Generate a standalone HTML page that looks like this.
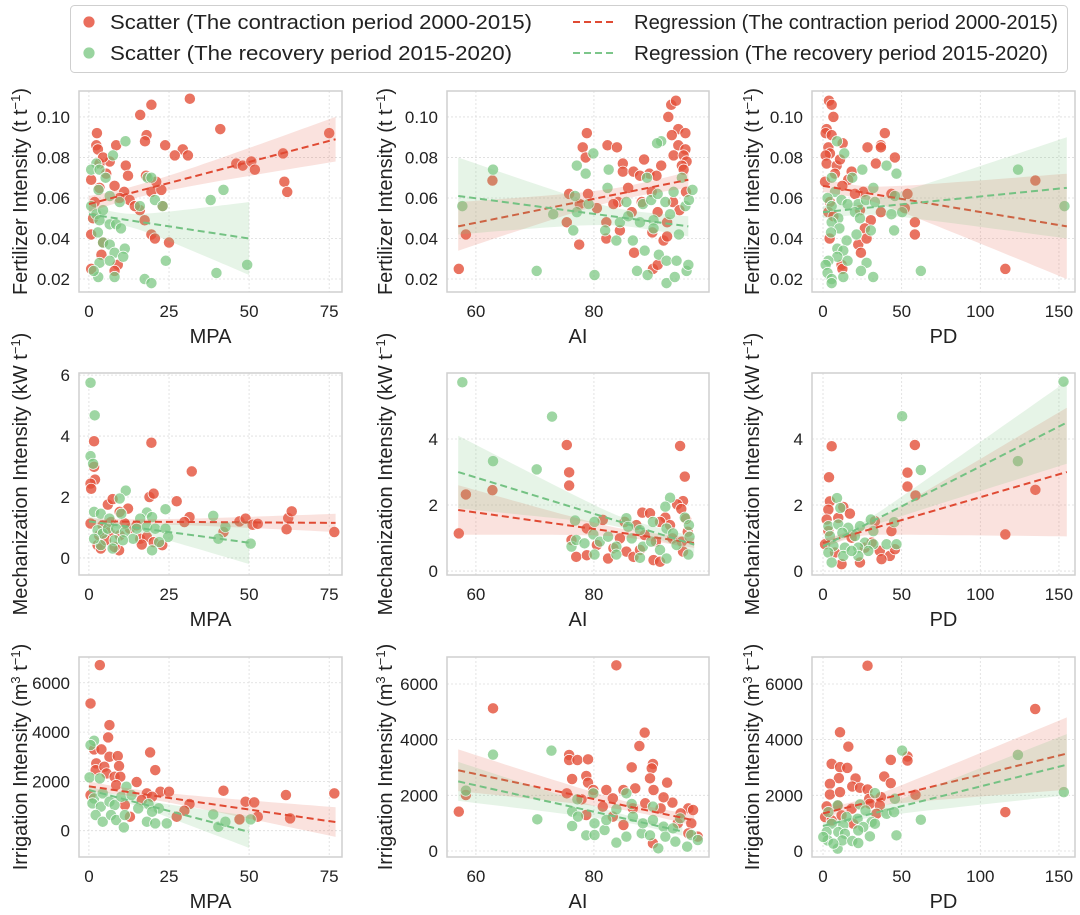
<!DOCTYPE html>
<html><head><meta charset="utf-8">
<style>
html,body{margin:0;padding:0;background:#fff;}
svg{display:block;font-family:"Liberation Sans",Arial,sans-serif;}
</style></head>
<body>
<svg id="fig" width="1080" height="915" viewBox="0 0 1080 915" xmlns="http://www.w3.org/2000/svg">
<g>
<rect x="70.5" y="5.5" width="997" height="67" rx="4" fill="#fff" stroke="#cfcfcf" stroke-width="1"/>
<circle cx="89" cy="22" r="6" fill="rgba(230,85,65,0.85)" stroke="#fff" stroke-width="0.8"/>
<text x="110" y="29" font-size="20.5" textLength="422" lengthAdjust="spacingAndGlyphs" fill="#222">Scatter (The contraction period 2000-2015)</text>
<circle cx="89" cy="53" r="6" fill="rgba(127,201,135,0.8)" stroke="#fff" stroke-width="0.8"/>
<text x="110" y="60" font-size="20.5" textLength="402" lengthAdjust="spacingAndGlyphs" fill="#222">Scatter (The recovery period 2015-2020)</text>
<line x1="573" y1="22" x2="613" y2="22" stroke="#e04a33" stroke-width="2" stroke-dasharray="7,4"/>
<text x="634" y="29" font-size="20.5" textLength="424" lengthAdjust="spacingAndGlyphs" fill="#222">Regression (The contraction period 2000-2015)</text>
<line x1="573" y1="53" x2="613" y2="53" stroke="#7cc68a" stroke-width="2" stroke-dasharray="7,4"/>
<text x="634" y="60" font-size="20.5" textLength="414" lengthAdjust="spacingAndGlyphs" fill="#222">Regression (The recovery period 2015-2020)</text>
</g>
</svg>
<script>
// ---------- DATA (x, y pairs per panel) ----------
const fertMpaRed=[[31.5,0.109],[19.5,0.106],[16,0.101],[41,0.094],[75,0.092],[2.5,0.092],[18,0.091],[17.5,0.088],[23.8,0.086],[8.5,0.086],[2.3,0.086],[2.8,0.084],[29.3,0.084],[26.8,0.081],[30.9,0.081],[60.6,0.082],[46,0.077],[48,0.076],[50.7,0.078],[51.8,0.074],[61,0.068],[61.9,0.063],[11.5,0.076],[12.2,0.071],[6.5,0.078],[0.7,0.069],[5.4,0.072],[3.3,0.065],[8,0.066],[11,0.063],[19.5,0.063],[22.6,0.064],[17.8,0.071],[21,0.068],[9.6,0.060],[12.7,0.059],[15.9,0.054],[17.4,0.049],[19.5,0.042],[20.6,0.040],[25,0.038],[1.8,0.058],[1.3,0.050],[0.7,0.042],[4.4,0.038],[3.9,0.032],[9,0.027],[8,0.024],[0.7,0.025],[23,0.056],[14.3,0.056],[3.3,0.077],[4.4,0.080]];
const fertMpaGreen=[[11.4,0.088],[7.5,0.081],[2.3,0.077],[0.7,0.074],[3.3,0.074],[5.2,0.070],[18.3,0.070],[19.5,0.070],[3,0.064],[6.5,0.061],[9.6,0.058],[20.6,0.059],[23,0.056],[15.9,0.056],[38,0.059],[42,0.064],[0.7,0.056],[2.3,0.052],[4.4,0.054],[3.3,0.049],[6.5,0.047],[8.5,0.047],[10,0.045],[2.8,0.043],[4.4,0.038],[6.5,0.037],[8,0.033],[11.2,0.035],[10.7,0.031],[3.3,0.028],[6.5,0.029],[24,0.029],[49.4,0.027],[39.8,0.023],[17.4,0.020],[19.5,0.018],[8,0.021],[2.9,0.021],[1.5,0.024]];
const fertAiRed=[[57.1,0.025],[58.3,0.042],[62.8,0.0686],[78.8,0.092],[78.1,0.085],[78.6,0.080],[82.3,0.086],[83.9,0.085],[84.9,0.077],[84.9,0.073],[86.7,0.073],[88.5,0.079],[89.4,0.072],[87.8,0.071],[90.6,0.071],[91.4,0.076],[92.6,0.1],[93.1,0.106],[93.9,0.108],[94.3,0.094],[93.2,0.091],[95.5,0.092],[94.3,0.086],[95.5,0.084],[93.5,0.081],[95.2,0.081],[95.7,0.078],[94.9,0.076],[95.2,0.074],[75.8,0.062],[79,0.062],[77.6,0.057],[75.4,0.048],[77.5,0.037],[82.1,0.048],[82.1,0.040],[84.4,0.044],[84.1,0.058],[85.8,0.065],[86.4,0.053],[86.8,0.033],[89.9,0.043],[90,0.025],[90.8,0.027],[91.8,0.039],[92.4,0.041],[92.4,0.048],[93.4,0.058],[94.5,0.054],[95.6,0.063],[89.8,0.063],[88.1,0.058],[90.8,0.053],[80.5,0.055],[83.3,0.057]];
const fertAiGreen=[[57.7,0.056],[62.9,0.074],[77.1,0.076],[78.6,0.072],[79.9,0.082],[82.5,0.074],[91.4,0.088],[90.7,0.087],[70.3,0.024],[80.1,0.022],[73.1,0.052],[76.5,0.044],[76.8,0.061],[77.1,0.053],[79.1,0.057],[82.3,0.065],[81.9,0.044],[83.8,0.039],[84.4,0.048],[85.5,0.058],[85.8,0.051],[86.6,0.039],[87.3,0.024],[87.8,0.048],[88.3,0.057],[88.6,0.034],[89,0.07],[89.1,0.022],[89.7,0.059],[90.1,0.049],[90.1,0.045],[90.8,0.062],[91,0.032],[92.1,0.058],[92.3,0.018],[92.3,0.029],[92.9,0.052],[93.7,0.021],[94,0.029],[94.4,0.042],[94.9,0.070],[95.5,0.056],[95.7,0.024],[96,0.027],[96.1,0.059],[96.7,0.064],[93.5,0.063]];
const fertPdRed=[[3.8,0.108],[5.5,0.106],[6.6,0.1],[2.3,0.094],[1.7,0.092],[5.5,0.091],[39.3,0.092],[28.3,0.085],[36.8,0.086],[36.8,0.085],[12.5,0.087],[3.4,0.085],[4.4,0.082],[45.7,0.080],[33.6,0.077],[1.7,0.081],[2.3,0.077],[8.7,0.076],[10.8,0.079],[18.2,0.073],[16,0.069],[135,0.0686],[1.3,0.068],[7.6,0.072],[12.3,0.066],[25.6,0.063],[43.5,0.062],[53.7,0.062],[52,0.055],[58.4,0.048],[58.4,0.042],[4.4,0.058],[3.4,0.053],[6.6,0.051],[23.5,0.054],[30.4,0.049],[36.8,0.053],[22.4,0.037],[24.1,0.033],[11.8,0.027],[12.3,0.025],[4.2,0.040],[26.6,0.045],[115.9,0.025],[27.7,0.040],[20.3,0.062]];
const fertPdGreen=[[8.9,0.088],[13.5,0.082],[40.4,0.076],[46.7,0.072],[124,0.074],[153.5,0.056],[25,0.074],[18.6,0.070],[5.5,0.070],[32,0.065],[45.7,0.061],[7.6,0.063],[2.9,0.060],[11.8,0.059],[22.4,0.057],[27.3,0.059],[33,0.058],[5.5,0.056],[15.6,0.057],[9.7,0.050],[43.5,0.052],[50.3,0.053],[20.3,0.053],[23.5,0.050],[5.5,0.048],[10.4,0.045],[30.4,0.044],[45.2,0.044],[21.3,0.042],[5.1,0.043],[15,0.039],[9.1,0.035],[12.9,0.034],[9.1,0.031],[15.6,0.029],[27.7,0.028],[3.4,0.029],[1.7,0.027],[24.1,0.024],[2.9,0.023],[5.5,0.020],[5.5,0.018],[12.9,0.021],[31.9,0.021],[62.2,0.024]];
const mechMpaRed=[[1.6,3.83],[19.5,3.78],[32.1,2.84],[1.6,2.99],[1.9,2.57],[0.5,2.44],[0.7,2.27],[18.9,2.0],[20.2,2.11],[27.4,1.86],[5.9,1.75],[7.4,1.93],[12.2,1.62],[9.6,1.51],[31.4,1.34],[29.8,1.18],[47,1.2],[48.9,1.29],[51.1,1.09],[52.7,1.12],[62.2,1.31],[63.3,1.53],[61.7,0.94],[76.6,0.85],[42,0.85],[0.5,1.13],[4.3,1.07],[6.4,0.85],[9.6,0.74],[12.8,0.96],[16,0.63],[18.1,0.69],[16.5,0.44],[20.2,0.52],[22.9,0.42],[2.7,0.42],[3.7,0.31],[9.4,0.25],[8,0.36],[6.9,1.18],[11.2,1.13],[14.9,1.07],[3.2,0.74],[5.3,0.58]];
const mechMpaGreen=[[0.5,5.75],[1.8,4.68],[0.5,3.34],[1.3,3.09],[11.5,2.21],[9.6,1.95],[23.9,1.6],[1.6,1.51],[3.7,1.45],[6.4,1.29],[10.1,1.45],[18.1,1.49],[19.7,1.34],[16,1.29],[38.8,1.38],[42.6,1.02],[40.4,0.63],[50.5,0.47],[2.7,0.91],[4.3,0.8],[5.9,0.96],[8.5,0.96],[11.2,0.85],[13.8,0.63],[14.9,0.96],[18.1,1.02],[20.7,0.96],[23.9,0.96],[24.7,0.69],[21.9,0.52],[19.7,0.25],[8,0.58],[3.7,0.42],[7.4,0.31],[1.6,0.63],[10.6,0.58]];
const mechAiRed=[[57.1,1.14],[58.3,2.32],[62.8,2.45],[75.4,3.82],[75.8,2.99],[75.8,2.59],[94.6,3.79],[95.4,2.86],[95.1,2.12],[94.1,2.02],[94.8,1.88],[88.2,1.77],[89.5,1.75],[92.1,1.62],[91.2,1.49],[81.5,1.55],[78.8,1.29],[85.2,1.49],[95.6,1.58],[95.9,1.19],[76.2,0.94],[77,0.43],[78.8,0.48],[82.4,0.38],[83.3,0.69],[85.5,0.59],[86.7,0.43],[87.8,0.64],[90.1,0.33],[91.2,0.28],[88.6,1.09],[90.5,0.89],[93.3,0.99],[94.9,0.89],[95.1,0.59],[84.4,0.99],[80.5,0.79],[87.2,1.39],[92.9,1.39]];
const mechAiGreen=[[57.7,5.72],[72.9,4.68],[62.9,3.33],[70.3,3.08],[92.9,2.22],[92.1,1.95],[95.4,1.62],[76.8,1.53],[80.1,1.49],[85.5,1.6],[76.2,0.74],[77,0.94],[78.4,0.84],[79.9,1.11],[81,0.89],[82.4,1.04],[83.8,0.74],[85.8,1.34],[86.4,0.99],[87.8,1.24],[88.3,0.74],[89.7,0.89],[90,1.49],[91.2,0.64],[92.3,1.29],[93.4,1.14],[94,0.79],[96.1,1.39],[96.2,1.04],[96,0.5],[87.8,0.4],[83.8,0.5],[80.1,0.5],[92.3,0.38]];
const mechPdRed=[[5.5,3.78],[3.8,2.84],[58.4,3.82],[53.7,2.98],[53.7,2.56],[58.8,2.29],[135,2.46],[115.9,1.11],[4.4,2.11],[3.4,1.86],[12.9,1.94],[17.1,1.74],[2.3,1.56],[9.7,1.61],[33,1.51],[43.5,1.21],[3.4,1.21],[18.2,1.01],[26.6,0.71],[36.1,0.61],[42.5,0.46],[37.2,0.36],[11.8,0.21],[23.5,0.26],[1.3,0.81],[7.6,0.56],[30.9,0.86],[45.7,0.66]];
const mechPdGreen=[[152.9,5.74],[50.3,4.69],[62.2,3.06],[123.9,3.33],[8.9,2.21],[11,1.91],[30.4,1.56],[45.2,1.48],[3.4,1.36],[9.7,1.41],[16,1.31],[23.5,1.36],[32,1.21],[4.4,1.06],[12.3,1.16],[20.3,1.06],[26.6,0.86],[32,0.81],[40.4,0.81],[46.7,0.81],[6.6,0.76],[13.9,0.71],[22.4,0.71],[28.8,0.61],[3.4,0.56],[12.9,0.46],[5.5,0.26],[22.4,0.46],[18.2,0.61]];
const irrMpaRed=[[3.4,6716],[0.5,5162],[6.4,4284],[6,3784],[19.1,3176],[20.7,2459],[1.6,3297],[3.9,3297],[6.4,3000],[9,3027],[9.4,2622],[2.3,2730],[2.1,2459],[4.8,2595],[5.5,2324],[8,2189],[9.8,2189],[14.9,1973],[8.5,1851],[42,1622],[61.5,1446],[76.6,1514],[48.9,1176],[51.6,1149],[31.4,1081],[29.8,811],[27.4,568],[52.7,568],[47,459],[62.8,500],[22.3,1581],[25,1581],[18.1,1514],[16.5,1243],[12.8,568],[11.2,1040],[0.5,1446],[19.7,1378]];
const irrMpaGreen=[[1.6,3649],[0.5,3473],[0.2,2162],[3.4,2122],[1.6,1311],[4.3,1514],[1.1,1108],[3.7,973],[6.4,1176],[8,1040],[10.1,1378],[11.7,1784],[13.3,1446],[15.4,905],[18.6,1081],[21.8,905],[2.1,635],[4.3,365],[6.9,635],[8.5,432],[11.2,635],[10.9,135],[18.1,365],[20.7,297],[24.3,297],[38.8,662],[40.4,162],[42.6,365],[50.5,459],[19.7,770]];
const irrAiRed=[[57.1,1413],[58.3,2012],[62.9,5126],[83.8,6671],[75.8,3449],[75.8,3269],[77.2,3269],[79,3293],[78.7,2695],[79,2455],[76.3,2587],[75.4,2072],[77.9,1856],[82.1,2192],[83.2,1892],[86.4,3006],[87,2251],[87.7,3772],[88.6,4251],[90,3126],[89.8,2970],[89.5,2611],[90.1,2192],[92.4,2455],[93.3,1737],[91.8,1928],[96,1533],[96.8,1473],[94.7,1353],[96.5,994],[97.6,515],[85,2192],[88.7,1713],[91.3,1533],[78.7,1293],[81.5,1593],[85,934],[86.6,1533],[83.2,1234],[94.2,994],[96,635],[79.9,2192],[90,275]];
const irrAiGreen=[[58.3,2168],[62.9,3461],[72.8,3605],[70.4,1138],[77.2,1856],[76.3,1413],[77.3,1234],[76.3,898],[78.7,563],[80.1,994],[80.1,575],[81.8,754],[82.1,1114],[83.8,1497],[83.8,299],[85.5,2072],[85.5,515],[86.4,1689],[86.6,1234],[88.1,635],[88.3,994],[89.5,563],[90,1593],[90,1114],[90.9,96],[91.8,874],[92.1,515],[93.4,814],[93.8,335],[94.6,1174],[95.8,156],[96.5,575],[97.6,395],[79.9,2072]];
const irrPdRed=[[28.3,6655],[134.9,5102],[10.8,4265],[16.1,3751],[43.1,3274],[53.7,3393],[53.7,3250],[5.5,3130],[10.8,3011],[15.4,2987],[10.1,2616],[20.7,2604],[38.9,2676],[4.4,2413],[43.1,2437],[18.6,2318],[23.5,2270],[28.3,2210],[4.4,2031],[10.8,2115],[29.4,1876],[36.8,1935],[58.8,2019],[115.9,1398],[2.3,1601],[9.7,1637],[18.2,1517],[29.8,1697],[36.1,1637],[1.3,1219],[11.8,1278],[34,1338],[19.2,980],[5.5,1099]];
const irrPdGreen=[[153.1,2115],[123.9,3453],[50.3,3608],[62.2,1123],[46.7,562],[33,2079],[45.7,1876],[9.3,1637],[23.5,1673],[27,1458],[40.4,1338],[45.2,1398],[3.4,1398],[15,1219],[22,1159],[30.9,1039],[5.5,980],[12.9,920],[25.6,860],[33,980],[2.3,681],[9.7,681],[13.9,621],[22.4,741],[29.8,526],[3,382],[9.3,84],[12.3,382],[18.6,358],[22.4,287],[6.6,263],[0.2,502]];

// regression: x at start/mean/end, fitted y there, CI half-width there
const regX = {
 p1r:[0,12,77], p1g:[0,10,50], p2r:[57,86,96], p2g:[57,86,96], p3r:[0,20,155], p3g:[0,20,155],
 p4r:[0,15,77], p4g:[0,10,50], p5r:[57,86,97], p5g:[57,86,97], p6r:[0,20,155], p6g:[0,20,155],
 p7r:[0,12,77], p7g:[0,10,50], p8r:[57,88,97], p8g:[57,88,95], p9r:[0,20,155], p9g:[0,20,155]};
const regY = {
 p1r:[0.057,0.0615,0.089], p1g:[0.052,0.0496,0.040], p2r:[0.046,0.063,0.069], p2g:[0.061,0.0499,0.046],
 p3r:[0.066,0.0634,0.046], p3g:[0.053,0.0545,0.065], p4r:[1.2,1.19,1.15], p4g:[1.2,1.06,0.5],
 p5r:[1.85,1.1,0.85], p5g:[3.0,1.4,0.8], p6r:[0.85,1.13,3.0], p6g:[0.75,1.25,4.5],
 p7r:[1800,1570,350], p7g:[1650,1310,-50], p8r:[2900,1500,1100], p8g:[2500,1050,700],
 p9r:[1350,1630,3500], p9g:[900,1180,3100]};
const regW = {
 p1r:[0.004,0.003,0.011], p1g:[0.004,0.003,0.018], p2r:[0.012,0.003,0.004], p2g:[0.019,0.004,0.005],
 p3r:[0.003,0.003,0.026], p3g:[0.003,0.003,0.025], p4r:[0.1,0.08,0.3], p4g:[0.15,0.1,0.7],
 p5r:[0.75,0.12,0.15], p5g:[1.1,0.15,0.25], p6r:[0.12,0.1,1.95], p6g:[0.1,0.1,1.25],
 p7r:[200,150,600], p7g:[150,120,650], p8r:[750,150,200], p8g:[700,120,150],
 p9r:[150,150,1300], p9g:[120,100,1100]};

const xTicksMPA=[0,25,50,75], xTicksAI=[60,80], xTicksPD=[0,50,100,150];
const yTicksF=[0.02,0.04,0.06,0.08,0.10], yTicksM1=[0,2,4,6], yTicksM2=[0,2,4], yTicksI=[0,2000,4000,6000];

// ---------- LAYOUT ----------
const NS="http://www.w3.org/2000/svg";
const svg=document.getElementById('fig');
const cols=[[79,342],[447,709],[812,1075]], rows=[[91,292],[373,575],[657,857]];
const xDom={MPA:[-3.1,79],AI:[55.1,99.5],PD:[-7,160.2]};
const xTk={MPA:xTicksMPA,AI:xTicksAI,PD:xTicksPD};
const panels=[
 {id:'p1',r:0,c:0,xv:'MPA',yd:[0.0136,0.1128],yt:yTicksF,fmt:v=>v.toFixed(2),red:fertMpaRed,green:fertMpaGreen,yl:'f'},
 {id:'p2',r:0,c:1,xv:'AI',yd:[0.0136,0.1128],yt:yTicksF,fmt:v=>v.toFixed(2),red:fertAiRed,green:fertAiGreen,yl:'f'},
 {id:'p3',r:0,c:2,xv:'PD',yd:[0.0136,0.1128],yt:yTicksF,fmt:v=>v.toFixed(2),red:fertPdRed,green:fertPdGreen,yl:'f'},
 {id:'p4',r:1,c:0,xv:'MPA',yd:[-0.56,6.07],yt:yTicksM1,fmt:v=>String(v),red:mechMpaRed,green:mechMpaGreen,yl:'m'},
 {id:'p5',r:1,c:1,xv:'AI',yd:[-0.12,6.0],yt:yTicksM2,fmt:v=>String(v),red:mechAiRed,green:mechAiGreen,yl:'m'},
 {id:'p6',r:1,c:2,xv:'PD',yd:[-0.12,6.0],yt:yTicksM2,fmt:v=>String(v),red:mechPdRed,green:mechPdGreen,yl:'m'},
 {id:'p7',r:2,c:0,xv:'MPA',yd:[-1067,7046],yt:yTicksI,fmt:v=>String(v),red:irrMpaRed,green:irrMpaGreen,yl:'i'},
 {id:'p8',r:2,c:1,xv:'AI',yd:[-216,6970],yt:yTicksI,fmt:v=>String(v),red:irrAiRed,green:irrAiGreen,yl:'i'},
 {id:'p9',r:2,c:2,xv:'PD',yd:[-216,6970],yt:yTicksI,fmt:v=>String(v),red:irrPdRed,green:irrPdGreen,yl:'i'}];

function mk(tag,attrs,parent){const e=document.createElementNS(NS,tag);for(const k in attrs)e.setAttribute(k,attrs[k]);(parent||svg).appendChild(e);return e;}

panels.forEach(p=>{
 const [L,R]=cols[p.c],[T,B]=rows[p.r];
 const xd=xDom[p.xv];
 const sx=v=>L+(v-xd[0])/(xd[1]-xd[0])*(R-L);
 const sy=v=>B-(v-p.yd[0])/(p.yd[1]-p.yd[0])*(B-T);
 const g=mk('g',{});
 
 
 const cp=mk('clipPath',{id:'clip'+p.id},g); mk('rect',{x:L,y:T,width:R-L,height:B-T},cp);
 xTk[p.xv].forEach(t=>{
  const gl=mk('line',{x1:sx(t),x2:sx(t),y1:T,y2:B,stroke:'#dcdcdc','stroke-width':0.8,'stroke-dasharray':'2,2'},g);
  
  
  const tl=mk('text',{x:sx(t),y:B+25,'font-size':17,'text-anchor':'middle',fill:'#222'},g);
  tl.textContent=String(t);
  
  
 });
 p.yt.forEach(t=>{
  const gl=mk('line',{x1:L,x2:R,y1:sy(t),y2:sy(t),stroke:'#dcdcdc','stroke-width':0.8,'stroke-dasharray':'2,2'},g);
  
  
  const tl=mk('text',{x:L-9,y:sy(t)+6,'font-size':17,'text-anchor':'end',fill:'#222'},g);
  tl.textContent=p.fmt(t);
  
  
 });
 const sg=mk('g',{'clip-path':'url(#clip'+p.id+')'},g);
 p.red.forEach(d=>{
  const c=mk('circle',{cx:sx(d[0]),cy:sy(d[1]),r:5.6,fill:'rgba(228,80,58,0.8)',stroke:'#fff','stroke-width':0.7},sg);
  
  
 });
 p.green.forEach(d=>{
  const c=mk('circle',{cx:sx(d[0]),cy:sy(d[1]),r:5.6,fill:'rgba(120,198,128,0.72)',stroke:'#fff','stroke-width':0.7},sg);
  
  
 });
 [['r','rgba(232,110,90,0.2)','#e04a33'],['g','rgba(130,200,135,0.2)','#74c283']].forEach(([s,bf,lc])=>{
  const k=p.id+s, xs=regX[k], ys=regY[k], ws=regW[k];
  const N=30, up=[], lo=[];
  for(let i=0;i<=N;i++){
   const x=xs[0]+(xs[2]-xs[0])*i/N;
   const y=ys[0]+(ys[2]-ys[0])*(x-xs[0])/(xs[2]-xs[0]);
   let w;
   if(x<=xs[1]){const t=(x-xs[0])/(xs[1]-xs[0]);w=Math.sqrt((1-t)*(1-t)*ws[0]*ws[0]+(1-(1-t)*(1-t))*ws[1]*ws[1]);}
   else{const t=(x-xs[1])/(xs[2]-xs[1]);w=Math.sqrt(t*t*ws[2]*ws[2]+(1-t*t)*ws[1]*ws[1]);}
   up.push(sx(x).toFixed(1)+','+sy(y+w).toFixed(1)); lo.unshift(sx(x).toFixed(1)+','+sy(y-w).toFixed(1));
  }
  const band=mk('polygon',{points:up.concat(lo).join(' '),fill:bf},sg);
  
  
  const ln=mk('line',{x1:sx(xs[0]),y1:sy(ys[0]),x2:sx(xs[2]),y2:sy(ys[2]),stroke:lc,'stroke-width':2,'stroke-dasharray':'7,4'},sg);
  
  
 });
 const fr=mk('rect',{x:L,y:T,width:R-L,height:B-T,fill:'none',stroke:'#cfcfcf','stroke-width':1.5},g);
 
 
 const xl=mk('text',{x:(L+R)/2,y:B+51,'font-size':20,'text-anchor':'middle',fill:'#222'},g);
 xl.textContent=p.xv;
 
 
 const lx= p.c===0?20:(p.c===1?385:752);
 const yl=mk('text',{x:0,y:0,'font-size':20,'text-anchor':'middle',fill:'#222',transform:'translate('+(lx+7)+','+((T+B)/2)+') rotate(-90)'},g);
 
 
 const base={f:'Fertilizer Intensity (t t',m:'Mechanization Intensity (kW t',i:'Irrigation Intensity (m'}[p.yl];
 yl.appendChild(document.createTextNode(base));
 if(p.yl==='i'){
  const s1=mk('tspan',{'font-size':13,dy:-7},yl); s1.textContent='3';
  const s2=mk('tspan',{dy:7},yl); s2.textContent=' t';
 }
 const s3=mk('tspan',{'font-size':13,dy:-7},yl); s3.textContent='\u22121';
 const s4=mk('tspan',{dy:7},yl); s4.textContent=')';
});
</script>
</body></html>
